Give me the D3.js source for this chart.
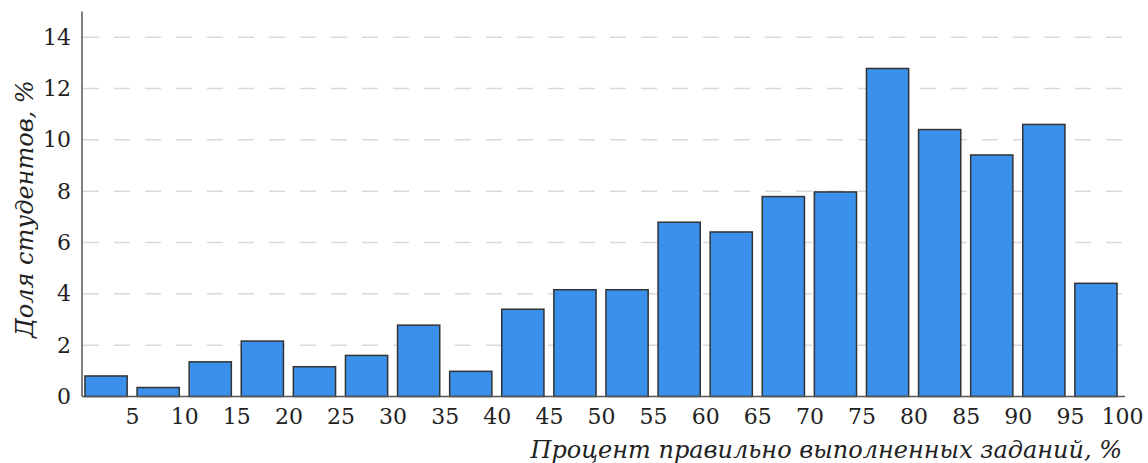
<!DOCTYPE html>
<html>
<head>
<meta charset="utf-8">
<script src="https://cdn.jsdelivr.net/npm/d3@7"></script>
<style>
  html, body { margin: 0; padding: 0; background: #fff; }
  svg { display: block; }
  text { font-family: "DejaVu Serif", serif; fill: #222; }
</style>
</head>
<body>
<svg id="chart" width="1148" height="463"></svg>
<script>
// Data
const bins = ["0-5","5-10","10-15","15-20","20-25","25-30","30-35","35-40","40-45","45-50",
              "50-55","55-60","60-65","65-70","70-75","75-80","80-85","85-90","90-95","95-100"];
const shares = [0.8, 0.35, 1.35, 2.16, 1.16, 1.6, 2.78, 0.98, 3.4, 4.16,
                4.16, 6.79, 6.41, 7.79, 7.97, 12.78, 10.4, 9.41, 10.6, 4.41];
const xTickValues = [5,10,15,20,25,30,35,40,45,50,55,60,65,70,75,80,85,90,95,100];
const yTickValues = [0,2,4,6,8,10,12,14];
const xTitle = "Процент правильно выполненных заданий, %";
const yTitle = "Доля студентов, %";

const svg = d3.select("#chart");
const left = 80, right = 1122, axisX = 82, axisEnd = 1125;
const y0 = 396.5, yTop = 11.5;

const xBand = d3.scaleBand().domain(bins).range([left, right])
  .paddingInner(0.19).paddingOuter(0.095);
const xLin = d3.scaleLinear().domain([0, 100]).range([left, right]);
const y = d3.scaleLinear().domain([0, 15]).range([y0, yTop]);

// Grid lines
svg.append("g").selectAll("line")
  .data(yTickValues.filter(v => v > 0))
  .join("line")
  .attr("x1", axisX + 1).attr("x2", axisEnd - 2)
  .attr("y1", d => y(d)).attr("y2", d => y(d))
  .attr("stroke", "#d9d9d9").attr("stroke-width", 1.5)
  .attr("stroke-dasharray", "16,15");

// Bars
svg.append("g").selectAll("rect")
  .data(bins.map((b, i) => ({b, v: shares[i]})))
  .join("rect")
  .attr("x", d => xBand(d.b))
  .attr("width", xBand.bandwidth())
  .attr("y", d => y(d.v))
  .attr("height", d => y(0) - y(d.v))
  .attr("fill", "#3a90ea")
  .attr("stroke", "#333")
  .attr("stroke-width", 1.5);

// Y axis
const yAxis = d3.axisLeft(y).tickValues(yTickValues).tickSize(0).tickPadding(11);
const gy = svg.append("g").attr("transform", `translate(${axisX},0)`).call(yAxis);
gy.select(".domain").remove();
gy.selectAll("text").style("font-family", "DejaVu Serif").style("font-size", "22px").attr("fill", "#222");
svg.append("line").attr("x1", axisX).attr("x2", axisX).attr("y1", yTop).attr("y2", y0)
  .attr("stroke", "#555").attr("stroke-width", 1.5);

// X axis
const xAxis = d3.axisBottom(xLin).tickValues(xTickValues).tickSize(0).tickPadding(12);
const gx = svg.append("g").attr("transform", `translate(0,${y0})`).call(xAxis);
gx.select(".domain").remove();
gx.selectAll("text").style("font-family", "DejaVu Serif").style("font-size", "22px").attr("fill", "#222");
svg.append("line").attr("x1", axisX).attr("x2", axisEnd).attr("y1", y0).attr("y2", y0)
  .attr("stroke", "#555").attr("stroke-width", 1.5);

// Titles
svg.append("text")
  .attr("x", axisEnd - 3).attr("y", 458)
  .attr("text-anchor", "end")
  .style("font-style", "italic").style("font-size", "24px")
  .text(xTitle);

svg.append("text")
  .attr("transform", `translate(33,209) rotate(-90)`)
  .attr("text-anchor", "middle")
  .style("font-style", "italic").style("font-size", "24px")
  .text(yTitle);
</script>
</body>
</html>
